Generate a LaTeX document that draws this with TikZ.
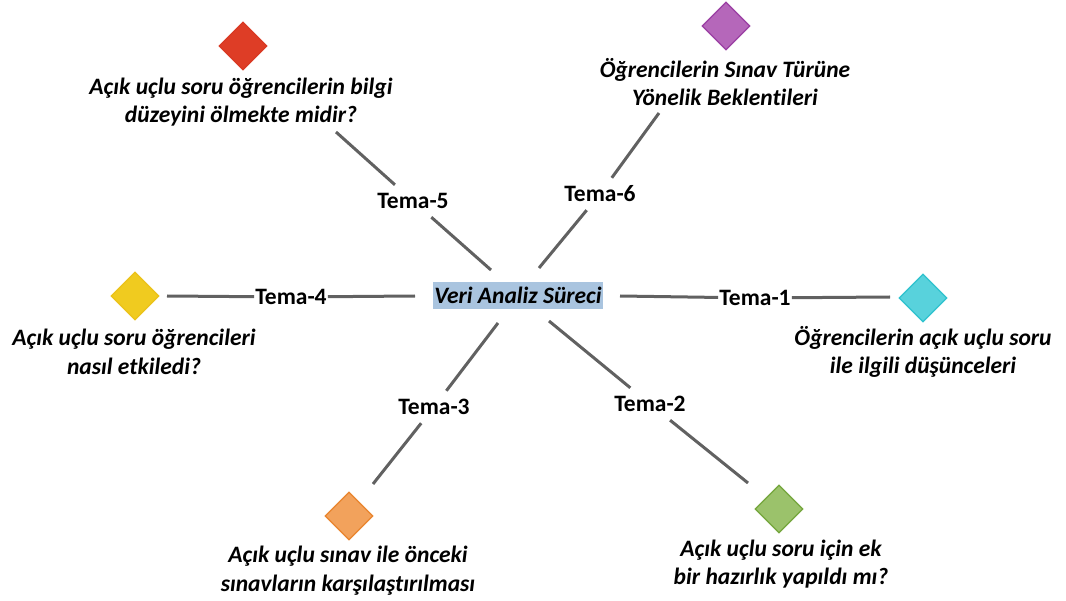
\documentclass[tikz,border=0pt]{standalone}
\usepackage{fontspec}
\setmainfont{Carlito}[Ligatures={NoCommon}]
\usetikzlibrary{shapes.geometric}
\definecolor{linegray}{HTML}{616161}
\definecolor{boxblue}{HTML}{A9C4DF}
\definecolor{dred}{HTML}{DE3D26}
\definecolor{dredb}{HTML}{D93A24}
\definecolor{dpurple}{HTML}{B567BA}
\definecolor{dpurpleb}{HTML}{9B3FA3}
\definecolor{dyellow}{HTML}{F0CB1F}
\definecolor{dyellowb}{HTML}{EBC21A}
\definecolor{dcyan}{HTML}{58D2DC}
\definecolor{dcyanb}{HTML}{2FC2CE}
\definecolor{dorange}{HTML}{F2A25C}
\definecolor{doraneb}{HTML}{E9852E}
\definecolor{dgreen}{HTML}{9BC26B}
\definecolor{dgreenb}{HTML}{74A63C}
\tikzset{
  diam/.style={diamond, minimum width=48pt, minimum height=48pt, inner sep=0pt, line width=1.2pt},
  desc/.style={align=center, font=\fontsize{23.5}{28.7}\selectfont\bfseries\itshape, inner sep=0pt},
  tema/.style={font=\fontsize{23.5}{28.7}\selectfont\bfseries, inner xsep=1pt, inner ysep=0pt, minimum height=32pt},
  conn/.style={draw=linegray, line width=3pt},
}
\begin{document}
\begin{tikzpicture}[x=1pt,y=-1pt]
\useasboundingbox (0,0) rectangle (1066,601);
% center
\node[fill=boxblue, inner xsep=1pt, inner ysep=1pt, minimum height=27pt, font=\fontsize{23.5}{28.7}\selectfont\bfseries\itshape] (c) at (518,295.5) {Veri Analiz Süreci};
% diamonds
\node[diam, fill=dcyan, draw=dcyanb] (d1) at (923,298) {};
\node[diam, fill=dgreen, draw=dgreenb] (d2) at (779,509) {};
\node[diam, fill=dorange, draw=doraneb] (d3) at (349,516) {};
\node[diam, fill=dyellow, draw=dyellowb] (d4) at (135,296) {};
\node[diam, fill=dred, draw=dredb] (d5) at (243,46) {};
\node[diam, fill=dpurple, draw=dpurpleb] (d6) at (726,26) {};
% descriptions
\node[desc] (x1) at (923,352) {Öğrencilerin açık uçlu soru\\ile ilgili düşünceleri};
\node[desc] (x2) at (781,564) {Açık uçlu soru için ek\\bir hazırlık yapıldı mı?};
\node[desc] (x3) at (348,571) {Açık uçlu sınav ile önceki\\sınavların karşılaştırılması};
\node[desc] (x4) at (134,352) {Açık uçlu soru öğrencileri\\nasıl etkiledi?};
\node[desc] (x5) at (241,102) {Açık uçlu soru öğrencilerin bilgi\\düzeyini ölmekte midir?};
\node[desc] (x6) at (725,82) {Öğrencilerin Sınav Türüne\\Yönelik Beklentileri};
% labels
\node[tema] (t1) at (755,298) {Tema-1};
\node[tema] (t2) at (650,404) {Tema-2};
\node[tema] (t3) at (434,407) {Tema-3};
\node[tema] (t4) at (291,297) {Tema-4};
\node[tema] (t5) at (413,201) {Tema-5};
\node[tema] (t6) at (600,194) {Tema-6};
% connector endpoints
\coordinate (a1) at (620,296); \coordinate (b1) at (890,297);
\coordinate (a2) at (549,321); \coordinate (b2) at (748,483);
\coordinate (a3) at (498,323); \coordinate (b3) at (373,484);
\coordinate (a4) at (415,296); \coordinate (b4) at (167,296);
\coordinate (a5) at (491,270); \coordinate (b5) at (336,132);
\coordinate (a6) at (539,268); \coordinate (b6) at (659,113);
\draw[conn] (a1) -- (t1) -- (b1);
\draw[conn] (a2) -- (t2) -- (b2);
\draw[conn] (a3) -- (t3) -- (b3);
\draw[conn] (a4) -- (t4) -- (b4);
\draw[conn] (a5) -- (t5) -- (b5);
\draw[conn] (a6) -- (t6) -- (b6);
\end{tikzpicture}
\end{document}
